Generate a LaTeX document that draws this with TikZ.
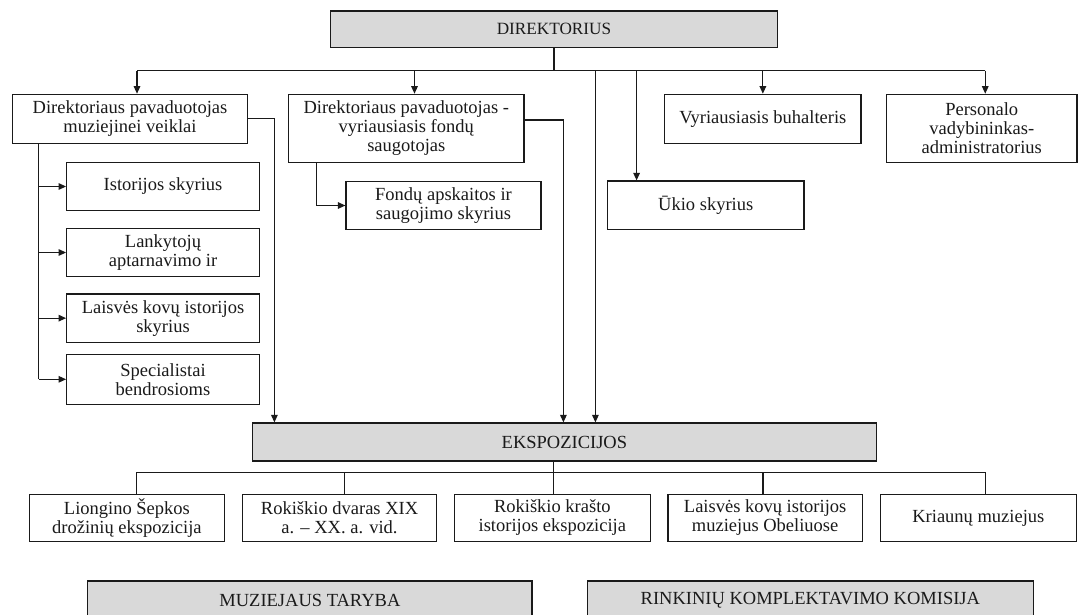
\documentclass[tikz,border=0pt]{standalone}
\usepackage{fontspec}
\setmainfont{Liberation Serif}
\usetikzlibrary{arrows.meta}
\definecolor{boxgray}{HTML}{D9D9D9}
\definecolor{ink}{HTML}{1A1A1A}
\tikzset{
  bx/.style={draw=ink, line width=1.2pt, fill=white, inner sep=0pt, align=center,
    text=ink, font=\fontsize{18.5}{19}\selectfont},
  gbx/.style={bx, fill=boxgray},
  ln/.style={draw=ink, line width=1.2pt},
  arr/.style={ln, -{Triangle[length=7.5pt,width=6.5pt]}}
}
\begin{document}
\begin{tikzpicture}[x=1pt,y=-1pt]
\useasboundingbox (0,0) rectangle (1078,614);
\clip (0,0) rectangle (1078,614);
\fill[white] (0,0) rectangle (1078,614);

% top level
\node[gbx, minimum width=446.6pt, minimum height=36.7pt, font=\fontsize{17.2}{18}\selectfont] (dir) at (554,29.35) {DIREKTORIUS};

\node[bx, minimum width=234.6pt, minimum height=49pt] (d1) at (130,118.8) {Direktoriaus pavaduotojas\\muziejinei veiklai};
\node[bx, minimum width=235.4pt, minimum height=68pt] (d2) at (406.3,128.3) {Direktoriaus pavaduotojas -\\vyriausiasis fondų\\saugotojas};
\node[bx, minimum width=196.3pt, minimum height=49pt] (vb) at (762.85,118.8) {Vyriausiasis buhalteris};
\node[bx, minimum width=190.5pt, minimum height=68pt] (pv) at (981.75,128.3) {Personalo\\vadybininkas-\\administratorius};

% children of d1
\node[bx, minimum width=192.6pt, minimum height=48.4pt] (c1) at (163,186.5) {Istorijos skyrius};
\node[bx, minimum width=192.6pt, minimum height=48.4pt] (c2) at (163,252.5) {Lankytojų\\aptarnavimo ir};
\node[bx, minimum width=192.6pt, minimum height=48.3pt] (c3) at (163,318.15) {Laisvės kovų istorijos\\skyrius};
\node[bx, minimum width=192.6pt, minimum height=50pt] (c4) at (163,379.3) {Specialistai\\bendrosioms};

% child of d2 and Ukio
\node[bx, minimum width=195pt, minimum height=47.6pt] (fd) at (443.5,205.5) {Fondų apskaitos ir\\saugojimo skyrius};
\node[bx, minimum width=196.5pt, minimum height=48.3pt] (uk) at (705.75,205.15) {Ūkio skyrius};

% EKSPOZICIJOS
\node[gbx, minimum width=624pt, minimum height=38pt] (eks) at (564.4,442) {EKSPOZICIJOS};

\node[bx, minimum width=195.2pt, minimum height=47.4pt] (e1) at (126.9,518) {Liongino Šepkos\\drožinių ekspozicija};
\node[bx, minimum width=193.5pt, minimum height=47.4pt] (e2) at (339.55,518) {Rokiškio dvaras XIX\\a. – XX. a. vid.};
\node[bx, minimum width=195.7pt, minimum height=47.4pt] (e3) at (552.35,518) {Rokiškio krašto\\istorijos ekspozicija};
\node[bx, minimum width=194.3pt, minimum height=47.4pt] (e4) at (765.15,518) {Laisvės kovų istorijos\\muziejus Obeliuose};
\node[bx, minimum width=196.3pt, minimum height=47.4pt] (e5) at (978.35,518) {Kriaunų muziejus};

% bottom councils
\node[gbx, minimum width=444.2pt, minimum height=38pt] (mt) at (309.9,600) {MUZIEJAUS TARYBA};
\node[gbx, minimum width=446.3pt, minimum height=38pt] (rk) at (810.35,600) {RINKINIŲ KOMPLEKTAVIMO KOMISIJA};

% top bus
\coordinate (bus) at ([yshift=-22.3pt]dir.south);
\coordinate (a1) at ([xshift=7pt]d1.north);
\coordinate (a2) at ([xshift=8.2pt]d2.north);
\coordinate (a3) at (vb.north);
\coordinate (a4) at ([xshift=3.5pt]pv.north);
\coordinate (au) at ([xshift=29.7pt]uk.north west);
\coordinate (a6) at ([xshift=343.6pt]eks.north west);
\draw[ln] (dir.south) -- (bus);
\draw[ln] (a1 |- bus) -- (a4 |- bus);
\draw[arr] (a1 |- bus) -- (a1);
\draw[arr] (a2 |- bus) -- (a2);
\draw[arr] (a3 |- bus) -- (a3);
\draw[arr] (a4 |- bus) -- (a4);
\draw[arr] (au |- bus) -- (au);
\draw[arr] (a6 |- bus) -- (a6);

% connectors down to EKSPOZICIJOS
\coordinate (k1) at ([xshift=22.6pt]eks.north west);
\coordinate (k2) at ([xshift=311.6pt]eks.north west);
\draw[arr] (d1.east) -| (k1);
\draw[arr] ([yshift=8.3pt]d2.east) -| (k2);

% left column of d1
\coordinate (l0) at ([xshift=26.6pt]d1.south west);
\draw[ln] (l0) -- (l0 |- c4.west);
\draw[arr] (l0 |- c1.west) -- (c1.west);
\draw[arr] (l0 |- c2.west) -- (c2.west);
\draw[arr] (l0 |- c3.west) -- (c3.west);
\draw[arr] (l0 |- c4.west) -- (c4.west);

% d2 child
\coordinate (m0) at ([xshift=28.2pt]d2.south west);
\draw[arr] (m0) |- (fd.west);

% bottom bus
\coordinate (s0) at ([xshift=-10.6pt]eks.south);
\coordinate (b2) at ([yshift=-10.7pt]s0);
\coordinate (t1) at ([xshift=9.5pt]e1.north);
\coordinate (t2) at ([xshift=4.85pt]e2.north);
\coordinate (t3) at ([xshift=1.45pt]e3.north);
\coordinate (t4) at ([xshift=-2.15pt]e4.north);
\coordinate (t5) at ([xshift=6.85pt]e5.north);
\draw[ln] (s0) -- (b2);
\draw[ln] (t1) |- (b2) -| (t5);
\draw[ln] (t2 |- b2) -- (t2);
\draw[ln] (t3 |- b2) -- (t3);
\draw[ln] (t4 |- b2) -- (t4);
\end{tikzpicture}
\end{document}
